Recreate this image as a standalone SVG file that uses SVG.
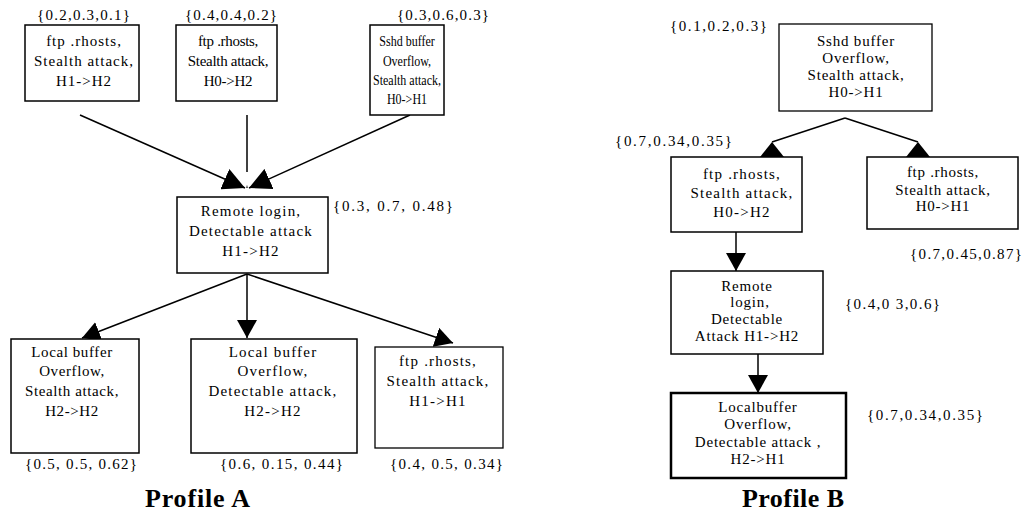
<svg xmlns="http://www.w3.org/2000/svg" width="1027" height="514" viewBox="0 0 1027 514">
  <style>
    text { font-family: "Liberation Serif", "Times New Roman", serif; fill: #000; }
    .box { fill: #fff; stroke: #000; stroke-width: 1.5; }
    .box-thick { fill: #fff; stroke: #000; stroke-width: 2.5; }
    .edge { fill: none; stroke: #000; stroke-width: 1.5; }
    .t { text-anchor: middle; font-size: 15px; }
    .a1 { letter-spacing: 1px; }
    .a2 { letter-spacing: -0.3px; }
    .a15 { letter-spacing: 1.2px; }
    .abl { letter-spacing: 0.6px; }
    .b { letter-spacing: 0.8px; }
    .bl { letter-spacing: 1.2px; }
    .br { letter-spacing: 0.7px; }
    .lbl { font-size: 15px; }
    .title { font-size: 26px; font-weight: bold; }
  </style>
  <defs>
    <marker id="arrow" viewBox="0 -10 18 20" refX="18" refY="0" markerWidth="18" markerHeight="20" markerUnits="userSpaceOnUse" orient="auto">
      <path d="M0,-10 L18,0 L0,10 z" fill="#000"/>
    </marker>
    <marker id="arrow-s" viewBox="0 -11 22 22" refX="22" refY="0" markerWidth="22" markerHeight="22" markerUnits="userSpaceOnUse" orient="auto">
      <path d="M0,-11 L22,0 L0,11 z" fill="#000"/>
    </marker>
    <marker id="arrow-knock" viewBox="0 -5 16 10" refX="16" refY="0" markerWidth="16" markerHeight="10" markerUnits="userSpaceOnUse" orient="auto">
      <path d="M0,-5 L16,0 L0,5 z" fill="#fff"/>
    </marker>
    <marker id="tri-up" viewBox="-12 0 24 15" refX="0" refY="0" markerWidth="24" markerHeight="15" markerUnits="userSpaceOnUse" orient="0">
      <path d="M0,0 L12,15 L-12,15 z" fill="#000"/>
    </marker>
  </defs>

  <!-- connectors -->
  <g id="connectors">
    <!-- Profile A, upper tier into remote login -->
    <path class="edge" d="M80,115 L245,188" marker-end="url(#arrow-s)"/>
    <path class="edge" d="M410,115 L249,188" marker-end="url(#arrow-s)"/>
    <path class="edge" d="M247,115 L247,188" marker-end="url(#arrow-knock)"/>
    <!-- Profile A, remote login to lower tier -->
    <path class="edge" d="M247,274 L82,338" marker-end="url(#arrow)"/>
    <path class="edge" d="M247,274 L247,338" marker-end="url(#arrow)"/>
    <path class="edge" d="M247,274 L453,343" marker-end="url(#arrow)"/>
    <!-- Profile B -->
    <path class="edge" d="M845,118 L772,142" marker-end="url(#tri-up)"/>
    <path class="edge" d="M845,118 L918,142" marker-end="url(#tri-up)"/>
    <path class="edge" d="M736,232 L736,271" marker-end="url(#arrow)"/>
    <path class="edge" d="M758,354 L758,393" marker-end="url(#arrow)"/>
  </g>

  <!-- Profile A -->
  <g id="a-ftp-h1-h2">
    <rect class="box" x="25" y="25" width="114" height="76"/>
    <text class="t a1" x="84" y="46">ftp .rhosts,</text>
    <text class="t a1" x="84" y="66">Stealth attack,</text>
    <text class="t a1" x="84" y="86">H1-&gt;H2</text>
    <text class="lbl" x="37" y="20" textLength="93" lengthAdjust="spacing">{0.2,0.3,0.1}</text>
  </g>
  <g id="a-ftp-h0-h2">
    <rect class="box" x="176" y="25" width="101" height="76"/>
    <text class="t a2" x="228" y="46">ftp .rhosts,</text>
    <text class="t a2" x="228" y="66">Stealth attack,</text>
    <text class="t a2" x="228" y="86">H0-&gt;H2</text>
    <text class="lbl" x="185" y="20" textLength="92" lengthAdjust="spacing">{0.4,0.4,0.2}</text>
  </g>
  <g id="a-sshd-h0-h1">
    <rect class="box" x="370" y="25" width="74" height="90"/>
    <!-- narrow box: text condensed horizontally -->
    <g transform="translate(407,0) scale(0.8,1)">
      <text class="t" x="0" y="46">Sshd buffer</text>
      <text class="t" x="0" y="66">Overflow,</text>
      <text class="t" x="0" y="85">Stealth attack,</text>
      <text class="t" x="0" y="104">H0-&gt;H1</text>
    </g>
    <text class="lbl" x="397" y="20" textLength="92" lengthAdjust="spacing">{0.3,0.6,0.3}</text>
  </g>
  <g id="a-remote-login">
    <rect class="box" x="177" y="197" width="151" height="76"/>
    <text class="t a15" x="251" y="216">Remote login,</text>
    <text class="t a15" x="251" y="236">Detectable attack</text>
    <text class="t a15" x="251" y="256">H1-&gt;H2</text>
    <text class="lbl" x="333" y="211" textLength="120" lengthAdjust="spacing">{0.3, 0.7, 0.48}</text>
  </g>
  <g id="a-local-stealth">
    <rect class="box" x="11" y="339" width="128" height="114"/>
    <text class="t abl" x="72" y="357">Local buffer</text>
    <text class="t abl" x="72" y="376">Overflow,</text>
    <text class="t abl" x="72" y="396">Stealth attack,</text>
    <text class="t abl" x="72" y="416">H2-&gt;H2</text>
    <text class="lbl" x="25" y="469" textLength="112" lengthAdjust="spacing">{0.5, 0.5, 0.62}</text>
  </g>
  <g id="a-local-detectable">
    <rect class="box" x="191" y="339" width="166" height="114"/>
    <text class="t a15" x="273" y="357">Local buffer</text>
    <text class="t a15" x="273" y="376">Overflow,</text>
    <text class="t a15" x="273" y="396">Detectable attack,</text>
    <text class="t a15" x="273" y="416">H2-&gt;H2</text>
    <text class="lbl" x="220" y="469" textLength="123" lengthAdjust="spacing">{0.6, 0.15, 0.44}</text>
  </g>
  <g id="a-ftp-h1-h1">
    <rect class="box" x="375" y="347" width="128" height="101" style="stroke-width:1.3"/>
    <text class="t a15" x="438" y="366">ftp .rhosts,</text>
    <text class="t a15" x="438" y="386">Stealth attack,</text>
    <text class="t a15" x="438" y="406">H1-&gt;H1</text>
    <text class="lbl" x="390" y="469" textLength="113" lengthAdjust="spacing">{0.4, 0.5, 0.34}</text>
  </g>
  <text class="title" x="145" y="507" textLength="105" lengthAdjust="spacing">Profile A</text>

  <!-- Profile B -->
  <g id="b-sshd-h0-h1">
    <rect class="box" x="779" y="24" width="153" height="87" style="stroke-width:1.3"/>
    <text class="t b" x="856" y="46">Sshd buffer</text>
    <text class="t b" x="856" y="63">Overflow,</text>
    <text class="t b" x="856" y="80">Stealth attack,</text>
    <text class="t b" x="856" y="97">H0-&gt;H1</text>
    <text class="lbl" x="670" y="31" textLength="97" lengthAdjust="spacing">{0.1,0.2,0.3}</text>
  </g>
  <g id="b-ftp-h0-h2">
    <rect class="box" x="671" y="157" width="131" height="75"/>
    <text class="t bl" x="742" y="179">ftp .rhosts,</text>
    <text class="t bl" x="742" y="198">Stealth attack,</text>
    <text class="t bl" x="742" y="217">H0-&gt;H2</text>
    <text class="lbl" x="615" y="146" textLength="117" lengthAdjust="spacing">{0.7,0.34,0.35}</text>
  </g>
  <g id="b-ftp-h0-h1">
    <rect class="box" x="867" y="157" width="151" height="72"/>
    <text class="t br" x="943" y="177">ftp .rhosts,</text>
    <text class="t br" x="943" y="195">Stealth attack,</text>
    <text class="t br" x="943" y="211">H0-&gt;H1</text>
    <text class="lbl" x="910" y="259" textLength="112" lengthAdjust="spacing">{0.7,0.45,0.87}</text>
  </g>
  <g id="b-remote-login">
    <rect class="box" x="671" y="271" width="152" height="83"/>
    <text class="t b" x="747" y="291">Remote</text>
    <text class="t b" x="750" y="307">login,</text>
    <text class="t b" x="747" y="324">Detectable</text>
    <text class="t b" x="747" y="341">Attack H1-&gt;H2</text>
    <text class="lbl" x="845" y="309" textLength="95" lengthAdjust="spacing">{0.4,0 3,0.6}</text>
  </g>
  <g id="b-local-detectable">
    <rect class="box-thick" x="671" y="393" width="175" height="85"/>
    <text class="t b" x="758" y="412">Localbuffer</text>
    <text class="t b" x="758" y="429">Overflow,</text>
    <text class="t b" x="758" y="447">Detectable attack ,</text>
    <text class="t b" x="758" y="464">H2-&gt;H1</text>
    <text class="lbl" x="867" y="420" textLength="116" lengthAdjust="spacing">{0.7,0.34,0.35}</text>
  </g>
  <text class="title" x="742" y="507" textLength="102" lengthAdjust="spacing">Profile B</text>
</svg>
